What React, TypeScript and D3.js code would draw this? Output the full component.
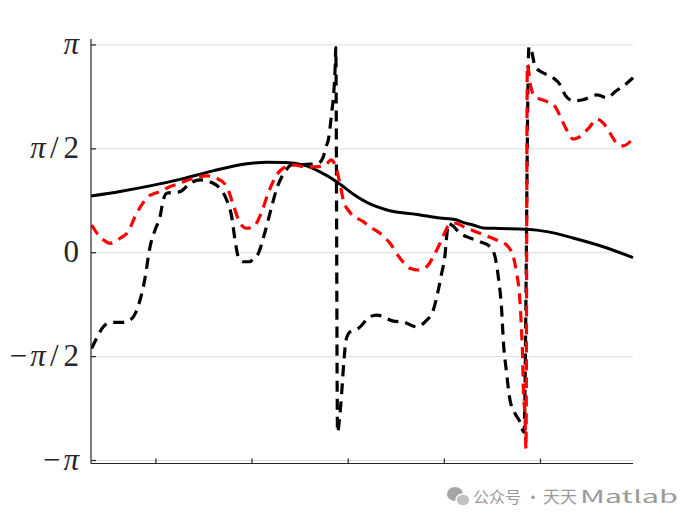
import React from "react";
import * as d3 from "d3";

const PI = Math.PI;

// x in axis units, y in radians
const solidX = [0.325, 0.627, 0.939, 1.251, 1.594, 1.947, 2.155, 2.343, 2.53, 2.707, 2.884, 3.05, 3.227, 3.403, 3.747, 3.955, 4.111, 4.194, 4.298, 4.402, 4.579, 4.86, 5.068, 5.338, 5.692, 5.962];
const solidY = [0.859, 0.927, 1.011, 1.109, 1.238, 1.344, 1.369, 1.366, 1.329, 1.223, 1.071, 0.889, 0.738, 0.647, 0.572, 0.526, 0.503, 0.458, 0.42, 0.375, 0.367, 0.355, 0.319, 0.223, 0.072, -0.075];

const blackX = [0.332, 0.384, 0.453, 0.523, 0.658, 0.731, 0.793, 0.835, 0.887, 0.921, 0.939, 0.991, 1.043, 1.077, 1.112, 1.251, 1.355, 1.459, 1.597, 1.736, 1.788, 1.823, 1.857, 1.909, 1.979, 2.01, 2.062, 2.135, 2.204, 2.259, 2.343, 2.412, 2.603, 2.689, 2.741, 2.769, 2.793, 2.828, 2.852, 2.866, 2.871, 2.889, 2.915, 2.932, 2.956, 2.977, 3.019, 3.105, 3.227, 3.296, 3.469, 3.573, 3.712, 3.799, 3.885, 3.937, 3.972, 4.007, 4.028, 4.043, 4.09, 4.163, 4.232, 4.371, 4.475, 4.527, 4.561, 4.596, 4.613, 4.648, 4.683, 4.735, 4.787, 4.828, 4.88, 4.909, 4.943, 5.026, 5.13, 5.203, 5.255, 5.338, 5.442, 5.588, 5.692, 5.775, 5.879, 5.962];
const blackY = [-1.447, -1.291, -1.12, -1.053, -1.053, -1.018, -0.897, -0.715, -0.382, -0.064, 0.087, 0.344, 0.546, 0.799, 0.9, 0.924, 1.051, 1.101, 1.051, 0.799, 0.546, 0.193, -0.06, -0.136, -0.136, -0.095, -0.019, 0.314, 0.697, 0.98, 1.227, 1.329, 1.339, 1.354, 1.45, 1.601, 1.707, 2.111, 2.464, 2.868, 3.1, -2.714, -2.426, -2.123, -1.624, -1.321, -1.195, -1.144, -0.968, -0.942, -1.033, -1.048, -1.12, -1.044, -0.867, -0.564, -0.311, -0.034, 0.299, 0.443, 0.405, 0.294, 0.243, 0.167, 0.092, -0.06, -0.363, -0.867, -1.321, -1.825, -2.229, -2.431, -2.558, -2.714, 3.115, 3.039, 2.817, 2.721, 2.646, 2.54, 2.388, 2.298, 2.313, 2.388, 2.343, 2.434, 2.54, 2.646];

const redX = [0.332, 0.401, 0.471, 0.523, 0.627, 0.713, 0.783, 0.852, 0.921, 0.991, 1.043, 1.112, 1.251, 1.389, 1.528, 1.632, 1.736, 1.805, 1.875, 1.944, 2.013, 2.1, 2.169, 2.256, 2.325, 2.429, 2.568, 2.707, 2.776, 2.821, 2.845, 2.88, 2.915, 2.949, 3.019, 3.157, 3.227, 3.331, 3.435, 3.539, 3.643, 3.729, 3.816, 3.885, 3.955, 4.007, 4.041, 4.111, 4.232, 4.371, 4.544, 4.648, 4.717, 4.752, 4.78, 4.794, 4.804, 4.815, 4.821, 4.839, 4.849, 4.863, 4.898, 4.943, 5.064, 5.151, 5.221, 5.272, 5.341, 5.411, 5.515, 5.585, 5.653, 5.723, 5.793, 5.861, 5.949];
const redY = [0.42, 0.269, 0.178, 0.143, 0.219, 0.319, 0.546, 0.723, 0.849, 0.9, 0.924, 0.976, 1.051, 1.127, 1.162, 1.127, 1.0, 0.723, 0.446, 0.37, 0.39, 0.617, 0.905, 1.177, 1.279, 1.329, 1.294, 1.303, 1.344, 1.404, 1.378, 1.253, 1.041, 0.799, 0.609, 0.47, 0.394, 0.294, 0.143, -0.084, -0.235, -0.261, -0.211, -0.06, 0.143, 0.314, 0.405, 0.446, 0.37, 0.294, 0.193, 0.117, -0.06, -0.311, -0.614, -0.917, -1.22, -1.624, -2.028, -2.482, -2.964, 2.843, 2.514, 2.363, 2.287, 2.211, 2.01, 1.858, 1.718, 1.757, 1.908, 2.021, 1.96, 1.808, 1.657, 1.616, 1.707];

const xTicks = [1, 2, 3, 4, 5];
const yTicks = [-PI, -PI / 2, 0, PI / 2, PI];
const yTickLabels = [
  [{ t: "\u2212", i: false }, { t: "\u03C0", i: true }],
  [{ t: "\u2212", i: false }, { t: "\u03C0", i: true }, { t: "/", i: false }, { t: "2", i: false }],
  [{ t: "0", i: false }],
  [{ t: "\u03C0", i: true }, { t: "/", i: false }, { t: "2", i: false }],
  [{ t: "\u03C0", i: true }],
];
const watermarkParts = ["公众号", "·", "天天", "Matlab"];
const xLim = [0.325, 5.962];
const yLim = [-PI - 0.045, PI + 0.09];

export default function App() {
  const L = 91, R = 633, T = 39, B = 463.5;
  const x = d3.scaleLinear().domain(xLim).range([L, R]);
  const y = d3.scaleLinear().domain(yLim).range([B, T]);
  const line = d3
    .line<[number, number]>()
    .x((d) => x(d[0]))
    .y((d) => y(d[1]))
    .curve(d3.curveMonotoneX);
  const zip = (a: number[], b: number[]) => a.map((v, i) => [v, b[i]] as [number, number]);
  const font = "'Liberation Serif', 'Times New Roman', serif";
  const gapBefore = (t: string, prev: string | null) => {
    if (prev === null) return 0;
    if (t === "/") return 4;
    if (t === "2") return 5;
    if (prev === "\u2212") return 3;
    return 0;
  };
  const wmFont = "'Noto Sans CJK SC', 'Noto Sans', sans-serif";
  return (
    <svg
      width={700}
      height={525}
      style={{ position: "absolute", left: 0, top: 0, background: "#fff" }}
    >
      <defs>
        <clipPath id="plotclip">
          <rect x={L} y={T - 4} width={R - L + 2} height={B - T + 4} />
        </clipPath>
      </defs>
      {yTicks.map((t, i) => (
        <line key={"g" + i} x1={L} x2={R} y1={y(t)} y2={y(t)} stroke="#dcdcdc" strokeWidth={1} />
      ))}
      <g clipPath="url(#plotclip)" fill="none" strokeLinejoin="round">
        <path d={line(zip(solidX, solidY)) || ""} stroke="#000" strokeWidth={3} />
        <path d={line(zip(blackX, blackY)) || ""} stroke="#000" strokeWidth={3.2} strokeDasharray="11 7" />
        <path d={line(zip(redX, redY)) || ""} stroke="#ff0000" strokeWidth={3.2} strokeDasharray="11 7" />
      </g>
      <line x1={L} x2={L} y1={T} y2={B} stroke="#262626" strokeWidth={1.2} />
      <line x1={L} x2={R} y1={B} y2={B} stroke="#262626" strokeWidth={1.2} />
      {yTicks.map((t, i) => (
        <line key={"yt" + i} x1={L} x2={L + 5} y1={y(t)} y2={y(t)} stroke="#262626" strokeWidth={1.2} />
      ))}
      {xTicks.map((t, i) => (
        <line key={"xt" + i} x1={x(t)} x2={x(t)} y1={B} y2={B - 5} stroke="#262626" strokeWidth={1.2} />
      ))}
      {yTicks.map((t, i) => (
        <text
          key={"yl" + i}
          x={79}
          y={y(t) + 9}
          textAnchor="end"
          fontFamily={font}
          fontSize={31}
          fill="#262626"
        >
          {yTickLabels[i].map((p, j) => (
            <tspan
              key={j}
              fontStyle={p.i ? "italic" : "normal"}
              dx={gapBefore(p.t, j > 0 ? yTickLabels[i][j - 1].t : null)}
            >
              {p.t}
            </tspan>
          ))}
        </text>
      ))}
      <g>
        <ellipse cx={455} cy={494} rx={8} ry={7} fill="#a6a6a6" />
        <ellipse cx={463} cy={500} rx={7} ry={6} fill="#c2c2c2" stroke="#fff" strokeWidth={1.5} />
        <text x={473} y={503} fontFamily={wmFont} fontSize={16} fill="#9a9a9a">
          {watermarkParts[0]}
        </text>
        <text x={533} y={503} fontFamily={wmFont} fontSize={16} fill="#9a9a9a" textAnchor="middle">
          {watermarkParts[1]}
        </text>
        <text x={543} y={503} fontFamily={wmFont} fontSize={17} fill="#9a9a9a">
          {watermarkParts[2]}
        </text>
        <text x={580} y={503} fontFamily={wmFont} fontSize={17} fill="#9a9a9a" textLength={98} lengthAdjust="spacingAndGlyphs">
          {watermarkParts[3]}
        </text>
      </g>
    </svg>
  );
}
